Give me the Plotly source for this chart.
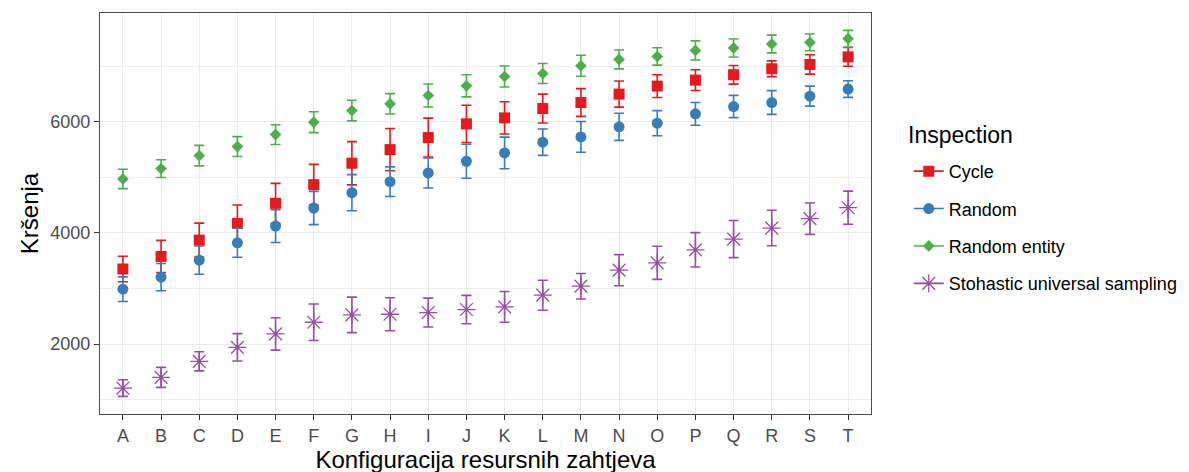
import plotly.graph_objects as go

categories = list("ABCDEFGHIJKLMNOPQRST")

cycle_mean = [3350, 3577, 3871, 4172, 4533, 4869, 5255, 5500, 5717, 5964,
              6072, 6240, 6348, 6500, 6644, 6752, 6848, 6956, 7034, 7170]
cycle_err = [230, 290, 305, 330, 360, 365, 390, 380, 350, 335,
             290, 260, 250, 235, 205, 187, 168, 142, 175, 170]

random_mean = [2987, 3204, 3510, 3823, 4124, 4449, 4725, 4923, 5080, 5291,
               5441, 5634, 5729, 5910, 5976, 6144, 6276, 6348, 6463, 6590]
random_err = [222, 245, 255, 262, 295, 300, 325, 267, 270, 305,
              285, 238, 277, 244, 226, 205, 200, 214, 180, 150]

entity_mean = [4972, 5158, 5392, 5555, 5771, 5994, 6204, 6325, 6475, 6649,
               6817, 6871, 7010, 7124, 7178, 7286, 7330, 7402, 7431, 7497]
entity_err = [175, 160, 185, 180, 178, 187, 186, 183, 207, 200,
              190, 180, 190, 170, 156, 172, 162, 160, 150, 150]

sus_mean = [1207, 1400, 1688, 1941, 2182, 2392, 2525, 2536, 2567, 2621,
            2669, 2879, 3041, 3330, 3462, 3696, 3889, 4088, 4257, 4454]
sus_err = [150, 180, 172, 247, 292, 328, 320, 298, 260, 255,
           277, 270, 230, 280, 298, 310, 334, 320, 283, 298]

series = [
    ("Cycle", cycle_mean, cycle_err, "#E41A1C", "square", 11, 0),
    ("Random", random_mean, random_err, "#377EB8", "circle", 11, 0),
    ("Random entity", entity_mean, entity_err, "#4DAF4A", "diamond", 9, 0),
    ("Stohastic universal sampling", sus_mean, sus_err, "#984EA3", "asterisk-open", 15, 1.3),
]

FONT = "Liberation Sans, Arial, sans-serif"
fig = go.Figure()

for name, mean, err, color, symbol, size, lw in series:
    marker = dict(color=color, symbol=symbol, size=size)
    marker["line"] = dict(color=color, width=lw) if lw else dict(width=0)
    fig.add_trace(go.Scatter(
        x=categories, y=mean, mode="markers", name=name, showlegend=False,
        marker=marker,
        error_y=dict(type="data", array=err, visible=True, color=color,
                     thickness=1.6, width=5),
    ))

for name, mean, err, color, symbol, size, lw in series:
    marker = dict(color=color, symbol=symbol, size=size)
    marker["line"] = dict(color=color, width=lw) if lw else dict(width=0)
    fig.add_trace(go.Scatter(
        x=[None], y=[None], mode="lines+markers", name=name, legendgroup=name,
        marker=marker, line=dict(color=color, width=1.6),
    ))

fig.add_annotation(
    text="Inspection", xref="paper", yref="paper", x=1.045, y=0.696,
    xanchor="left", yanchor="middle", showarrow=False,
    font=dict(size=23, color="black", family=FONT),
)

fig.update_layout(
    width=1189, height=472,
    margin=dict(l=92, r=326, t=5, b=66),
    paper_bgcolor="white", plot_bgcolor="white",
    font=dict(family=FONT, color="black"),
    legend=dict(
        font=dict(size=18, color="black"),
        x=1.049, xanchor="left", y=0.651, yanchor="top",
        tracegroupgap=11,
        bgcolor="rgba(0,0,0,0)",
    ),
    xaxis=dict(
        type="category", categoryorder="array", categoryarray=categories,
        range=[-0.6, 19.6],
        showgrid=True, gridcolor="#EBEBEB", gridwidth=1.2,
        ticks="outside", ticklen=5, tickcolor="#333333", tickwidth=1.1,
        tickfont=dict(size=18, color="#4D4D4D"),
        title=dict(text="Konfiguracija resursnih zahtjeva", font=dict(size=24, color="black"), standoff=4),
        showline=True, linecolor="#4D4D4D", linewidth=1.1, mirror=True,
        zeroline=False,
    ),
    yaxis=dict(
        range=[740, 7960],
        tickvals=[2000, 4000, 6000],
        ticktext=["2000", "4000", "6000"],
        showgrid=True, gridcolor="#EBEBEB", gridwidth=1.2,
        minor=dict(tickvals=[1000, 3000, 5000, 7000], showgrid=True,
                   gridcolor="#EFEFEF", gridwidth=0.7, ticks=""),
        ticks="outside", ticklen=5, tickcolor="#333333", tickwidth=1.1,
        tickfont=dict(size=18, color="#4D4D4D"),
        title=dict(text="Kršenja", font=dict(size=24, color="black"), standoff=4),
        showline=True, linecolor="#4D4D4D", linewidth=1.1, mirror=True,
        zeroline=False,
    ),
)

fig.write_html("out.html")
